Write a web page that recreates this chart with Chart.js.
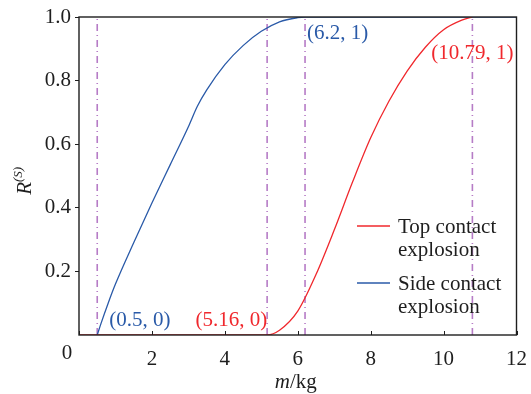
<!DOCTYPE html>
<html>
<head>
<meta charset="utf-8">
<script src="https://cdn.jsdelivr.net/npm/chart.js@4/dist/chart.umd.min.js"></script>
<style>
  html, body { margin: 0; padding: 0; background: #fff; }
  #wrap { width: 531px; height: 394px; }
</style>
</head>
<body>
<div id="wrap"><canvas id="chart"></canvas></div>
<script>
// Series
const topMass = [0, 5.16, 5.5, 6.0, 6.5, 7.0, 7.5, 8.0, 8.5, 9.0, 9.5, 10.0, 10.5, 10.79];
const topR    = [0, 0, 0.015, 0.075, 0.19, 0.33, 0.48, 0.62, 0.735, 0.83, 0.905, 0.96, 0.99, 1];

const sideMass = [0.5, 0.6, 0.8, 1.0, 1.5, 2.0, 2.5, 3.0, 3.25, 3.5, 4.0, 4.5, 5.0, 5.5, 6.0, 6.2, 12];
const sideR    = [0, 0.035, 0.1, 0.16, 0.29, 0.415, 0.535, 0.655, 0.72, 0.77, 0.85, 0.91, 0.955, 0.985, 0.998, 1, 1];

// marked points on the curves
const markX = [0.5, 5.16, 6.2, 10.79];
const markLabels = ['(0.5, 0)', '(5.16, 0)', '(6.2, 1)', '(10.79, 1)'];

const xTicks = [0, 2, 4, 6, 8, 10, 12];
const yTicks = [0.2, 0.4, 0.6, 0.8, 1.0];

const seriesNames = [['Top contact', 'explosion'], ['Side contact', 'explosion']];

const RED = '#f0282d';
const BLUE = '#2a5aa8';
const PURPLE = '#b67cc6';
const INK = '#1e1e1e';
const FONT = '"Liberation Serif", "Times New Roman", serif';

function toPoints(xs, ys) {
    return xs.map((x, i) => ({ x: x, y: ys[i] }));
}

// Frame, inward x ticks, guide lines, labels and legend
const decorPlugin = {
    id: 'decor',
    beforeDatasetsDraw(chart) {
        const { ctx, chartArea: a, scales: { x } } = chart;
        ctx.save();
        ctx.strokeStyle = PURPLE;
        ctx.lineWidth = 1.6;
        ctx.setLineDash([7, 4, 1, 4]);
        markX.forEach(v => {
            const px = x.getPixelForValue(v);
            ctx.beginPath();
            ctx.moveTo(px, a.bottom);
            ctx.lineTo(px, a.top);
            ctx.stroke();
        });
        ctx.restore();
    },
    afterDraw(chart) {
        const { ctx, chartArea: a, scales: { x, y } } = chart;
        ctx.save();
        // frame
        ctx.strokeStyle = INK;
        ctx.lineWidth = 1.4;
        ctx.strokeRect(a.left, a.top, a.right - a.left, a.bottom - a.top);

        // inward x ticks
        ctx.lineWidth = 1;
        xTicks.forEach(v => {
            const px = Math.round(x.getPixelForValue(v)) + 0.5;
            ctx.beginPath();
            ctx.moveTo(px, a.bottom);
            ctx.lineTo(px, a.bottom - 4);
            ctx.stroke();
        });

        // origin label
        ctx.fillStyle = INK;
        ctx.font = '21px ' + FONT;
        ctx.textAlign = 'center';
        ctx.textBaseline = 'top';
        ctx.fillText('0', x.getPixelForValue(0) - 12, a.bottom + 8);

        // point annotations
        ctx.textBaseline = 'alphabetic';
        ctx.fillStyle = BLUE;
        ctx.textAlign = 'left';
        ctx.fillText(markLabels[0], x.getPixelForValue(markX[0]) + 12, y.getPixelForValue(0) - 9);
        ctx.fillText(markLabels[2], x.getPixelForValue(markX[2]) + 2, y.getPixelForValue(1) + 22);
        ctx.fillStyle = RED;
        ctx.textAlign = 'right';
        ctx.fillText(markLabels[1], x.getPixelForValue(markX[1]), y.getPixelForValue(0) - 9);
        ctx.textAlign = 'center';
        ctx.fillText(markLabels[3], x.getPixelForValue(markX[3]), y.getPixelForValue(1) + 42);

        // legend
        const lx = a.left + 278, colors = [RED, BLUE];
        seriesNames.forEach((lines, i) => {
            const ly = a.top + 209 + i * 57;
            ctx.strokeStyle = colors[i];
            ctx.lineWidth = 1.3;
            ctx.beginPath();
            ctx.moveTo(lx, ly);
            ctx.lineTo(lx + 33, ly);
            ctx.stroke();
            ctx.fillStyle = INK;
            ctx.textAlign = 'left';
            ctx.textBaseline = 'middle';
            lines.forEach((t, j) => ctx.fillText(t, lx + 41, ly + 1 + j * 23));
        });

        // axis titles
        ctx.fillStyle = INK;
        ctx.textBaseline = 'alphabetic';
        const cx = (a.left + a.right) / 2 - 2;
        ctx.font = 'italic 21px ' + FONT;
        const mW = ctx.measureText('m').width;
        ctx.font = '21px ' + FONT;
        const restW = ctx.measureText('/kg').width;
        const sx = cx - (mW + restW) / 2;
        ctx.textAlign = 'left';
        ctx.font = 'italic 21px ' + FONT;
        ctx.fillText('m', sx, 388);
        ctx.font = '21px ' + FONT;
        ctx.fillText('/kg', sx + mW, 388);

        ctx.translate(31, (a.top + a.bottom) / 2 + 6);
        ctx.rotate(-Math.PI / 2);
        ctx.font = 'italic 21px ' + FONT;
        const rW = ctx.measureText('R').width;
        ctx.fillText('R', -rW, 0);
        ctx.font = 'italic 13px ' + FONT;
        ctx.fillText('(S)', 0, -9);
        ctx.restore();
    }
};

new Chart(document.getElementById('chart'), {
    type: 'scatter',
    data: {
        datasets: [
            {
                label: 'Top contact explosion',
                data: toPoints(topMass, topR),
                showLine: true,
                borderColor: RED,
                borderWidth: 1.3,
                pointRadius: 0,
                cubicInterpolationMode: 'monotone'
            },
            {
                label: 'Side contact explosion',
                data: toPoints(sideMass, sideR),
                showLine: true,
                borderColor: BLUE,
                borderWidth: 1.3,
                pointRadius: 0,
                cubicInterpolationMode: 'monotone'
            }
        ]
    },
    options: {
        responsive: true,
        maintainAspectRatio: false,
        animation: false,
        layout: { padding: { top: 17, right: 13, left: 0, bottom: 0 } },
        plugins: {
            legend: { display: false },
            tooltip: { enabled: false }
        },
        scales: {
            x: {
                type: 'linear',
                min: 0,
                max: 12,
                afterBuildTicks: s => { s.ticks = xTicks.map(v => ({ value: v })); },
                afterFit: s => { s.height = 59; },
                grid: { display: false },
                border: { display: false },
                ticks: {
                    color: INK,
                    padding: 4,
                    maxRotation: 0,
                    font: { family: FONT, size: 21 },
                    callback: v => (v === 0 ? '' : String(v))
                }
            },
            y: {
                min: 0,
                max: 1,
                afterBuildTicks: s => { s.ticks = yTicks.map(v => ({ value: v })); },
                afterFit: s => { s.width = 79; },
                grid: { drawOnChartArea: false, drawTicks: true, tickLength: 4, color: INK },
                border: { display: false },
                ticks: {
                    color: INK,
                    padding: 4,
                    font: { family: FONT, size: 21 },
                    callback: v => v.toFixed(1)
                }
            }
        }
    },
    plugins: [decorPlugin]
});
</script>
</body>
</html>
